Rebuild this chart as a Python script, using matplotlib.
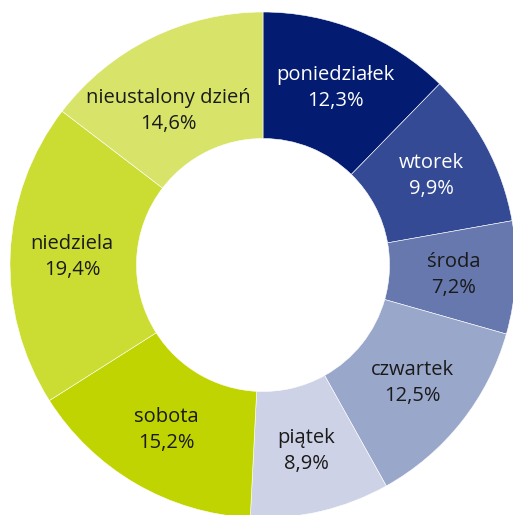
import matplotlib.pyplot as plt

days = ["poniedziałek", "wtorek", "środa", "czwartek", "piątek",
        "sobota", "niedziela", "nieustalony dzień"]
shares = [12.3, 9.9, 7.2, 12.5, 8.9, 15.2, 19.4, 14.6]
pct_labels = ["12,3%", "9,9%", "7,2%", "12,5%", "8,9%", "15,2%", "19,4%", "14,6%"]
colors = ["#031c72", "#344a94", "#6678ae", "#99a7cb", "#cdd2e6",
          "#bfd400", "#cbdd33", "#d8e469"]
text_colors = ["white", "white", "#1a1a1a", "#1a1a1a", "#1a1a1a",
               "#1a1a1a", "#1a1a1a", "#1a1a1a"]

plt.rcParams['font.family'] = ['Open Sans', 'DejaVu Sans']

fig = plt.figure(figsize=(5.13, 5.15), dpi=100)
ax = fig.add_axes([0, 0, 1, 1])

R = 253.0  # outer radius in px
labels = [f"{d}\n{p}" for d, p in zip(days, pct_labels)]
wedges, texts = ax.pie(shares, labels=labels, colors=colors, startangle=90,
                       counterclock=False, radius=1.0, labeldistance=0.755,
                       wedgeprops=dict(width=0.5, edgecolor="white", linewidth=0.4),
                       textprops=dict(fontsize=14.5, ha="center", va="center",
                                      linespacing=1.4))
for t, c in zip(texts, text_colors):
    t.set_color(c)
    t.set_horizontalalignment("center")

# last label sits a bit lower/left in the original
x, y = texts[-1].get_position()
texts[-1].set_position((x - 0.04, y - 0.07))

ax.set_xlim(-263 / R, (513 - 263) / R)
ax.set_ylim(-(515 - 265) / R, 265 / R)
ax.set_aspect("equal")
ax.axis("off")

fig.savefig("out.png", dpi=100)
